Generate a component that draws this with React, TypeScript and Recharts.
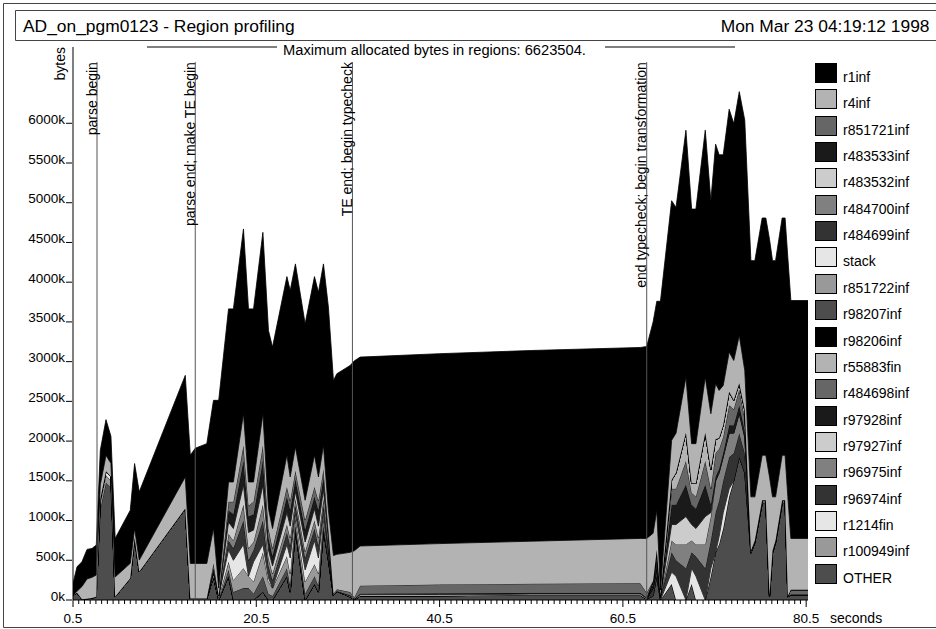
import React from 'react';
import { AreaChart, Area, XAxis, YAxis, ReferenceLine, Legend } from 'recharts';

// sample times (seconds)
const times = [
  0.5, 0.94, 1.48, 2.03, 2.57, 3.04, 3.48, 4.1, 4.64, 5.1, 6.75, 7.22, 7.73, 12.75, 13.3,
  13.84, 15.1, 15.83, 16.4, 17.47, 18.0, 19.1, 19.65, 20.2, 21.22, 21.83, 22.27, 23.84, 24.2, 24.77,
  25.83, 26.85, 27.28, 27.83, 28.37, 28.92, 29.29, 30.74, 31.2, 31.83,
  40.5, 50.5, 62.4, 63.1,
  63.8, 64.2, 64.6, 65.82, 66.3, 67.38, 68.0, 68.47, 69.49, 70.1, 70.62, 71.0, 71.45, 72.1, 72.6,
  73.2, 73.8, 74.47, 74.9, 75.7, 76.1, 76.5, 76.83, 77.16, 77.88, 78.2, 78.5, 78.83, 80.7,
];

// bytes per region, in k
const OTHER = [
  60, 90, 10, 15, 25, 40, 1150, 1480, 1420, 40, 275, 754, 356, 1152, 20,
  20, 20, 290, 0, 300, 0, 0, 0, 0, 100, 0, 0, 300, 100, 880, 0, 200, 100, 880, 500, 60, 110, 40, 5, 50,
  55, 60, 60, 10,
  50, 300, 0, 200, 0, 0, 200, 0, 0, 300, 600, 700, 900, 1300, 1500, 1800, 1600, 590, 720, 1215, 1215, 40, 590, 720, 1215, 1215, 40, 60, 60,
];
const r100949inf = [
  0, 0, 0, 0, 0, 0, 80, 90, 80, 0, 0, 30, 0, 0, 0,
  0, 0, 0, 0, 0, 0, 0, 0, 0, 0, 0, 0, 0, 0, 0, 0, 0, 0, 0, 0, 0, 0, 0, 0, 0,
  0, 0, 0, 0,
  0, 0, 0, 0, 0, 0, 0, 0, 0, 0, 0, 0, 0, 0, 0, 0, 0, 0, 0, 0, 0, 0, 0, 0, 0, 0, 0, 0, 0,
];
const r1214fin = [
  0, 0, 0, 0, 0, 0, 40, 50, 50, 0, 0, 0, 0, 0, 0,
  0, 0, 0, 0, 0, 0, 0, 0, 0, 0, 0, 0, 0, 0, 0, 0, 0, 0, 0, 0, 0, 0, 0, 0, 0,
  0, 0, 0, 0,
  0, 0, 0, 150, 300, 0, 200, 300, 0, 100, 0, 100, 200, 100, 0, 0, 0, 0, 0, 0, 0, 0, 0, 0, 0, 0, 0, 0, 0,
];
const r96974inf = [
  0, 0, 0, 0, 0, 0, 0, 0, 0, 0, 0, 0, 0, 0, 0,
  0, 0, 0, 0, 0, 0, 0, 0, 0, 0, 0, 0, 0, 0, 0, 0, 0, 0, 0, 0, 0, 0, 0, 0, 0,
  0, 0, 0, 0,
  100, 100, 30, 250, 200, 400, 200, 250, 400, 350, 500, 450, 400, 400, 350, 300, 250, 0, 0, 0, 0, 0, 0, 0, 0, 0, 0, 0, 0,
];
const r96975inf = [
  0, 0, 0, 0, 0, 0, 0, 0, 0, 0, 0, 0, 0, 0, 0,
  0, 0, 0, 0, 0, 0, 0, 0, 0, 0, 0, 0, 0, 0, 0, 0, 0, 0, 0, 0, 0, 0, 0, 0, 0,
  0, 0, 0, 0,
  0, 0, 0, 150, 200, 300, 150, 150, 300, 300, 400, 350, 300, 300, 250, 250, 200, 0, 0, 0, 0, 0, 0, 0, 0, 0, 0, 0, 0,
];
const r97927inf = [
  0, 0, 0, 0, 0, 0, 0, 0, 0, 0, 0, 0, 0, 0, 0,
  0, 0, 0, 0, 0, 0, 0, 0, 0, 0, 0, 0, 0, 0, 0, 0, 0, 0, 0, 0, 0, 0, 0, 0, 0,
  0, 0, 0, 0,
  0, 0, 0, 200, 250, 350, 200, 200, 350, 50, 0, 0, 0, 0, 0, 0, 0, 0, 0, 0, 0, 0, 0, 0, 0, 0, 0, 0, 0,
];
const r97928inf = [
  0, 0, 0, 0, 0, 0, 0, 0, 0, 0, 0, 0, 0, 0, 0,
  0, 0, 0, 0, 0, 0, 0, 0, 0, 0, 0, 0, 0, 0, 0, 0, 0, 0, 0, 0, 0, 0, 0, 0, 0,
  0, 0, 0, 0,
  50, 150, 30, 250, 250, 400, 250, 250, 400, 100, 50, 50, 50, 100, 100, 100, 80, 0, 0, 0, 0, 0, 0, 0, 0, 0, 0, 10, 10,
];
const r484698inf = [
  0, 0, 0, 0, 0, 0, 0, 0, 0, 0, 0, 0, 0, 0, 0,
  0, 0, 0, 0, 0, 0, 0, 0, 0, 0, 0, 0, 0, 0, 0, 0, 0, 0, 0, 0, 0, 0, 0, 0, 0,
  0, 0, 0, 0,
  40, 80, 0, 200, 200, 300, 150, 150, 300, 200, 300, 250, 200, 250, 200, 200, 160, 30, 30, 40, 40, 10, 30, 30, 40, 40, 10, 60, 60,
];
const r55883fin = [
  0, 0, 0, 0, 0, 0, 0, 0, 0, 0, 0, 0, 0, 0, 0,
  0, 0, 0, 0, 0, 0, 0, 0, 0, 0, 0, 0, 0, 0, 0, 0, 0, 0, 0, 0, 0, 0, 0, 0, 0,
  0, 0, 0, 0,
  0, 0, 0, 110, 200, 355, 118, 168, 355, 245, 172, 138, 150, 170, 115, 79, 100, 0, 0, 0, 0, 0, 0, 0, 0, 0, 0, 0, 0,
];
const r98206inf = [
  0, 0, 0, 0, 0, 0, 0, 0, 0, 0, 0, 0, 0, 0, 0,
  0, 0, 0, 0, 0, 0, 0, 0, 0, 0, 0, 0, 0, 0, 0, 0, 0, 0, 0, 0, 0, 0, 0, 0, 0,
  0, 0, 0, 0,
  0, 0, 0, 0, 0, 0, 0, 0, 0, 0, 0, 0, 0, 0, 0, 0, 0, 0, 0, 0, 0, 0, 0, 0, 0, 0, 0, 0, 0,
];
const r98207inf = [
  0, 0, 0, 0, 0, 0, 0, 0, 0, 0, 0, 0, 0, 0, 0,
  0, 0, 0, 0, 80, 100, 150, 150, 80, 200, 80, 50, 100, 80, 60, 80, 100, 80, 60, 40, 0, 0, 0, 0, 0,
  0, 0, 0, 0,
  0, 0, 0, 0, 0, 0, 0, 0, 0, 0, 0, 0, 0, 0, 0, 0, 0, 0, 0, 0, 0, 0, 0, 0, 0, 0, 0, 0, 0,
];
const r851722inf = [
  0, 0, 0, 0, 0, 0, 0, 0, 0, 0, 0, 0, 0, 0, 0,
  0, 0, 60, 30, 100, 150, 250, 150, 150, 300, 150, 100, 150, 150, 100, 150, 150, 150, 100, 60, 0, 0, 0, 0, 0,
  0, 0, 0, 0,
  0, 0, 0, 0, 0, 0, 0, 0, 0, 0, 0, 0, 0, 0, 0, 0, 0, 0, 0, 0, 0, 0, 0, 0, 0, 0, 0, 0, 0,
];
const stack = [
  0, 0, 0, 0, 0, 0, 0, 0, 0, 0, 0, 0, 0, 0, 0,
  0, 0, 0, 20, 150, 250, 300, 0, 250, 100, 50, 0, 150, 200, 50, 150, 300, 200, 50, 0, 0, 0, 0, 0, 0,
  0, 0, 0, 0,
  0, 0, 0, 0, 0, 0, 0, 0, 0, 0, 0, 0, 0, 0, 0, 0, 0, 0, 0, 0, 0, 0, 0, 0, 0, 0, 0, 0, 0,
];
const r484699inf = [
  0, 0, 0, 0, 0, 0, 0, 0, 0, 0, 0, 0, 0, 0, 0,
  0, 0, 0, 0, 120, 150, 300, 200, 150, 300, 150, 100, 150, 150, 100, 150, 150, 150, 100, 60, 0, 0, 0, 0, 0,
  0, 0, 0, 0,
  0, 0, 0, 0, 0, 0, 0, 0, 0, 0, 0, 0, 0, 0, 0, 0, 0, 0, 0, 0, 0, 0, 0, 0, 0, 0, 0, 0, 0,
];
const r484700inf = [
  0, 0, 0, 0, 0, 0, 0, 0, 0, 0, 0, 0, 0, 0, 0,
  0, 0, 0, 0, 80, 100, 200, 150, 100, 200, 100, 80, 100, 100, 80, 80, 100, 100, 80, 40, 0, 0, 0, 0, 0,
  0, 0, 0, 0,
  0, 0, 0, 0, 0, 0, 0, 0, 0, 0, 0, 0, 0, 0, 0, 0, 0, 0, 0, 0, 0, 0, 0, 0, 0, 0, 0, 0, 0,
];
const r483532inf = [
  0, 0, 0, 0, 0, 0, 0, 0, 0, 0, 0, 0, 0, 0, 0,
  0, 0, 0, 0, 150, 150, 250, 200, 150, 250, 100, 100, 150, 150, 100, 120, 150, 150, 120, 60, 0, 0, 10, 5, 15,
  15, 15, 15, 10,
  0, 0, 0, 0, 0, 0, 0, 0, 0, 0, 0, 0, 0, 0, 0, 0, 0, 0, 0, 0, 0, 0, 0, 0, 0, 0, 0, 0, 0,
];
const r483533inf = [
  0, 0, 0, 0, 0, 0, 0, 0, 0, 0, 0, 0, 0, 0, 0,
  0, 0, 50, 0, 150, 180, 300, 200, 200, 300, 150, 120, 200, 200, 150, 150, 150, 200, 150, 80, 0, 0, 10, 5, 15,
  15, 15, 15, 10,
  0, 0, 0, 0, 0, 0, 0, 0, 0, 0, 0, 0, 0, 0, 0, 0, 0, 0, 0, 0, 0, 0, 0, 0, 0, 0, 0, 0, 0,
];
const r851721inf = [
  0, 0, 0, 0, 0, 0, 0, 0, 0, 0, 0, 0, 0, 0, 0,
  0, 0, 60, 0, 106, 156, 195, 136, 156, 195, 120, 100, 122, 119, 106, 126, 122, 119, 107, 40, 20, 25, 40, 20, 100,
  110, 115, 120, 60,
  0, 0, 0, 0, 0, 0, 0, 0, 0, 0, 0, 0, 0, 0, 0, 0, 0, 0, 0, 0, 0, 0, 0, 0, 0, 0, 0, 0, 0,
];
const r4inf = [
  0, 20, 160, 250, 260, 274, 180, 200, 170, 250, 186, 116, 146, 397, 440,
  440, 440, 444, 100, 250, 250, 400, 300, 250, 400, 250, 250, 400, 300, 300, 250, 400, 300, 300, 250, 480, 440, 500, 585, 500,
  515, 535, 565, 685,
  600, 500, 65, 500, 500, 700, 500, 500, 700, 700, 700, 600, 500, 500, 500, 600, 500, 678, 548, 567, 567, 1500, 678, 548, 567, 567, 1250, 645, 645,
];
const r1inf = [
  150, 309, 311, 372, 364, 377, 434, 450, 340, 485, 669, 817, 859, 1278, 1362,
  1450, 1508, 1609, 2363, 2178, 2178, 2325, 2178, 2178, 2282, 2242, 2283, 2248, 2345, 2304, 2220, 2248, 2324, 2283, 2555, 2204, 2273, 2352, 2390, 2377,
  2390, 2400, 2403, 2415,
  2660, 2630, 3635, 3015, 2841, 3108, 2952, 2952, 3108, 2680, 3015, 2965, 2903, 3057, 2981, 3069, 3149, 2973, 2973, 2986, 2986, 2990, 2973, 2973, 2986, 2986, 3010, 2994, 2994,
];

const yTicks = [0, 500, 1000, 1500, 2000, 2500, 3000, 3500, 4000, 4500, 5000, 5500, 6000];
const xLabels = [0.5, 20.5, 40.5, 60.5, 80.5];
// one mark per sample on the time axis
const sampleTicks = Array.from({ length: 129 }, (_, i) => 0.5 + i * 0.625);

const markers = [
  { t: 3.12, label: 'parse begin' },
  { t: 13.84, label: 'parse end; make TE begin' },
  { t: 30.99, label: 'TE end; begin typecheck' },
  { t: 63.1, label: 'end typecheck; begin transformation' },
];

// stacked bottom to top
const layers = [
  { key: 'OTHER', values: OTHER, fill: '#4d4d4d' },
  { key: 'r100949inf', values: r100949inf, fill: '#999999' },
  { key: 'r1214fin', values: r1214fin, fill: '#e6e6e6' },
  { key: 'r96974inf', values: r96974inf, fill: '#333333' },
  { key: 'r96975inf', values: r96975inf, fill: '#808080' },
  { key: 'r97927inf', values: r97927inf, fill: '#cccccc' },
  { key: 'r97928inf', values: r97928inf, fill: '#1a1a1a' },
  { key: 'r484698inf', values: r484698inf, fill: '#666666' },
  { key: 'r55883fin', values: r55883fin, fill: '#b3b3b3' },
  { key: 'r98206inf', values: r98206inf, fill: '#000000' },
  { key: 'r98207inf', values: r98207inf, fill: '#4d4d4d' },
  { key: 'r851722inf', values: r851722inf, fill: '#999999' },
  { key: 'stack', values: stack, fill: '#e6e6e6' },
  { key: 'r484699inf', values: r484699inf, fill: '#333333' },
  { key: 'r484700inf', values: r484700inf, fill: '#808080' },
  { key: 'r483532inf', values: r483532inf, fill: '#cccccc' },
  { key: 'r483533inf', values: r483533inf, fill: '#1a1a1a' },
  { key: 'r851721inf', values: r851721inf, fill: '#666666' },
  { key: 'r4inf', values: r4inf, fill: '#b3b3b3' },
  { key: 'r1inf', values: r1inf, fill: '#000000' },
];

const data = times.map((t, i) => {
  const row: Record<string, number> = { t };
  layers.forEach((l) => {
    row[l.key] = l.values[i];
  });
  return row;
});

const FONT = "'Liberation Sans', Arial, Helvetica, sans-serif";

const XTick = (props: any) => {
  const { x, y, payload } = props;
  const major = xLabels.includes(payload.value);
  return (
    <g>
      <line x1={x} x2={x} y1={y} y2={y + (major ? 7 : 4)} stroke="#000" strokeWidth={1} />
      {major && (
        <text x={x} y={y + 22.7} textAnchor="middle" fontSize={13.5} fontFamily={FONT} fill="#000">
          {String(payload.value)}
        </text>
      )}
    </g>
  );
};

const YTick = (props: any) => {
  const { x, y, payload } = props;
  return (
    <g>
      <line x1={x - 7} x2={x - 1} y1={y} y2={y} stroke="#000" strokeWidth={1} />
      <text x={x - 8} y={y + 0.5} textAnchor="end" fontSize={13.5} fontFamily={FONT} fill="#000">
        {`${payload.value}k`}
      </text>
    </g>
  );
};

const markerLabel = (text: string) => (props: any) => {
  const vb = props.viewBox || {};
  const x = (vb.x ?? 0) - 0.5;
  const y = vb.y ?? 62;
  return (
    <text
      x={x}
      y={y}
      transform={`rotate(-90 ${x} ${y})`}
      textAnchor="end"
      fontSize={14}
      fontFamily={FONT}
      fill="#000"
    >
      {text}
    </text>
  );
};

const renderLegend = () => (
  <div style={{ position: 'relative', width: 121, height: 530, fontFamily: FONT }}>
    {[...layers].reverse().map((l, i) => (
      <div key={l.key} style={{ position: 'absolute', left: 0, top: i * 26.35, height: 26, width: 121 }}>
        <div
          style={{
            position: 'absolute',
            left: 0,
            top: 0,
            width: 22,
            height: 20,
            boxSizing: 'border-box',
            border: '1px solid #000',
            background: l.fill,
          }}
        />
        <div style={{ position: 'absolute', left: 28, top: 7, fontSize: 14, lineHeight: '14px', color: '#000', whiteSpace: 'nowrap' }}>
          {l.key}
        </div>
      </div>
    ))}
  </div>
);

const App: React.FC = () => {
  return (
    <div style={{ position: 'absolute', left: 0, top: 0, width: 936, height: 629, overflow: 'hidden', background: '#fff', fontFamily: FONT }}>
      <AreaChart width={936} height={629} data={data} margin={{ top: 47, right: 128, bottom: 0, left: 13 }}>
        <XAxis
          type="number"
          dataKey="t"
          domain={[0.5, 80.7]}
          allowDataOverflow
          ticks={sampleTicks}
          interval={0}
          tick={<XTick />}
          tickLine={false}
          tickSize={0}
          tickMargin={0}
          height={29}
          axisLine={{ stroke: '#000', strokeWidth: 1 }}
        />
        <YAxis
          type="number"
          domain={[0, 6960]}
          allowDataOverflow
          ticks={yTicks}
          interval={0}
          tick={<YTick />}
          tickLine={false}
          tickSize={0}
          tickMargin={0}
          width={60}
          axisLine={{ stroke: '#000', strokeWidth: 1 }}
        />
        {layers.map((l) => (
          <Area
            key={l.key}
            type="linear"
            dataKey={l.key}
            stackId="regions"
            stroke="#000"
            strokeWidth={0.8}
            fill={l.fill}
            fillOpacity={1}
            dot={false}
            activeDot={false}
            isAnimationActive={false}
          />
        ))}
        {markers.map((m) => (
          <ReferenceLine
            key={m.label}
            segment={[
              { x: m.t, y: 6770 },
              { x: m.t, y: 0 },
            ]}
            stroke="#555"
            strokeWidth={1}
            label={markerLabel(m.label)}
          />
        ))}
        <Legend
          layout="horizontal"
          verticalAlign="middle"
          align="center"
          content={renderLegend}
          wrapperStyle={{ left: 815, top: 63, width: 121, height: 530 }}
        />
      </AreaChart>
      <svg
        width={936}
        height={629}
        style={{ position: 'absolute', left: 0, top: 0, pointerEvents: 'none' }}
        fontFamily={FONT}
      >
        <path d="M 936 3.5 H 3.5 V 627.5 H 936" fill="none" stroke="#444" strokeWidth={1} />
        <path d="M 936 10.5 H 15.5 V 40.5 H 936" fill="none" stroke="#444" strokeWidth={1} />
        <text x={23} y={32} fontSize={17.4} fill="#000">AD_on_pgm0123 - Region profiling</text>
        <text x={929.5} y={32} fontSize={17.4} textAnchor="end" fill="#000">Mon Mar 23 04:19:12 1998</text>
        <line x1={147} x2={277} y1={47} y2={47} stroke="#000" strokeWidth={1} />
        <line x1={605} x2={735} y1={47} y2={47} stroke="#000" strokeWidth={1} />
        <text x={434.5} y={55} fontSize={14.7} textAnchor="middle" fill="#000">
          Maximum allocated bytes in regions: 6623504.
        </text>
        <text x={65} y={47} fontSize={14} textAnchor="end" transform="rotate(-90 65 47)" fill="#000">bytes</text>
        <text x={830} y={622.7} fontSize={14} fill="#000">seconds</text>
      </svg>
    </div>
  );
};

export default App;
